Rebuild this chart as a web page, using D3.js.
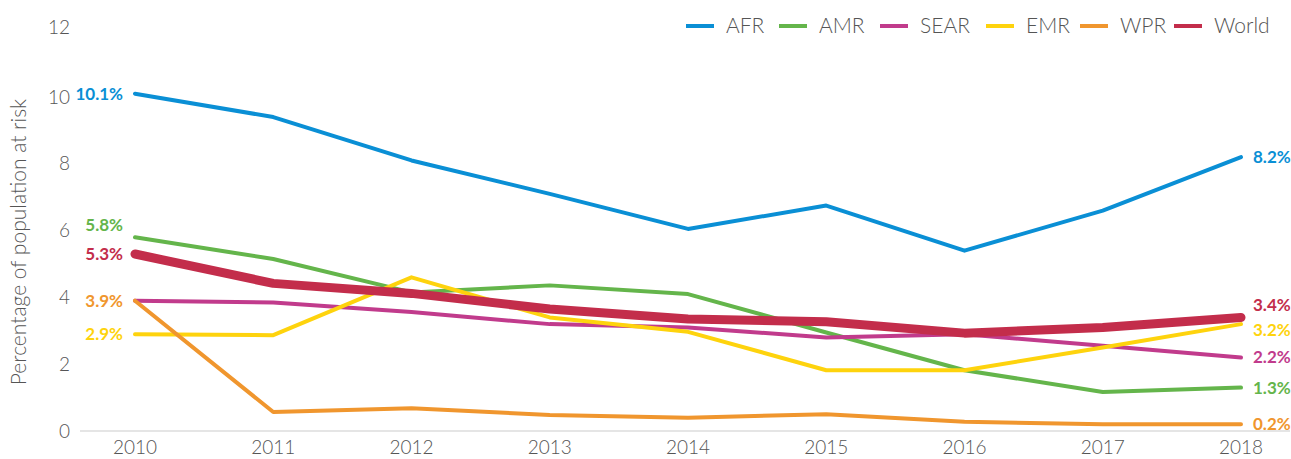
<!DOCTYPE html>
<html>
<head>
<meta charset="utf-8">
<script src="https://cdn.jsdelivr.net/npm/d3@7"></script>
<style>
  html, body { margin: 0; padding: 0; background: #fff; }
  svg { display: block; font-family: Lato, "Open Sans", sans-serif; }
</style>
</head>
<body>
<svg id="chart" width="1291" height="459"></svg>
<script>
// Share of population at risk, by WHO region, 2010–2018
const years = [2010, 2011, 2012, 2013, 2014, 2015, 2016, 2017, 2018];
const afr   = [10.1, 9.4, 8.1, 7.1, 6.05, 6.75, 5.4, 6.6, 8.2];
const amr   = [5.8, 5.15, 4.15, 4.36, 4.1, 2.95, 1.82, 1.17, 1.3];
const sear  = [3.9, 3.85, 3.56, 3.2, 3.1, 2.8, 2.9, 2.55, 2.2];
const emr   = [2.9, 2.87, 4.6, 3.4, 2.97, 1.82, 1.82, 2.5, 3.2];
const wpr   = [3.9, 0.57, 0.68, 0.48, 0.4, 0.5, 0.28, 0.2, 0.2];
const world = [5.3, 4.42, 4.12, 3.65, 3.35, 3.27, 2.93, 3.1, 3.4];
const yTicks = [0, 2, 4, 6, 8, 10, 12];
const seriesNames = ["AFR", "AMR", "SEAR", "EMR", "WPR", "World"];
const seriesValues = [afr, amr, sear, emr, wpr, world];
const colors = ["#0a8fd5", "#64b54b", "#c13b8c", "#fed30d", "#f0962e", "#c32d4b"];
const widths = [4, 4, 4, 4, 4, 9];

const series = seriesNames.map((name, i) => ({
  name, values: seriesValues[i], color: colors[i], width: widths[i]
}));

const svg = d3.select("#chart");
const x = d3.scalePoint().domain(years).range([135, 1241]);
const y = d3.scaleLinear().domain([0, 10]).range([431, 97]);
const textGrey = "#555";

// baseline
svg.append("line")
  .attr("x1", 80).attr("x2", 1290)
  .attr("y1", y(0)).attr("y2", y(0))
  .attr("stroke", "#dcdcdc").attr("stroke-width", 1.5);

// y tick labels
svg.append("g").selectAll("text").data(yTicks).join("text")
  .attr("x", 70).attr("y", d => y(d) - (d === 12 ? 3 : 0))
  .attr("dy", "0.35em")
  .attr("text-anchor", "end")
  .attr("fill", textGrey).attr("font-size", 19).attr("font-weight", 300)
  .text(d => d);

// x tick labels
svg.append("g").selectAll("text").data(years).join("text")
  .attr("x", d => x(d)).attr("y", 454)
  .attr("text-anchor", "middle")
  .attr("fill", textGrey).attr("font-size", 19).attr("font-weight", 300)
  .text(d => d);

// y axis title
svg.append("text")
  .attr("transform", "translate(26,242) rotate(-90)")
  .attr("text-anchor", "middle")
  .attr("fill", textGrey).attr("font-size", 21).attr("font-weight", 300)
  .text("Percentage of population at risk");

// lines
const line = d3.line().x((d, i) => x(years[i])).y(d => y(d));
svg.append("g").selectAll("path").data(series).join("path")
  .attr("d", d => line(d.values))
  .attr("fill", "none")
  .attr("stroke", d => d.color)
  .attr("stroke-width", d => d.width)
  .attr("stroke-linecap", "round")
  .attr("stroke-linejoin", "round");

// value labels at both ends
const fmt = v => v.toFixed(1) + "%";
const startOffsets = { AFR: 0, AMR: -12, SEAR: 0, EMR: 0, WPR: 0, World: 0 };
const endOffsets = { AFR: 0, AMR: 0, SEAR: 0, EMR: 6, WPR: 0, World: -12 };
const startShown = ["AFR", "AMR", "EMR", "WPR", "World"];
series.filter(s => startShown.includes(s.name)).forEach(s => {
  svg.append("text")
    .attr("x", 123).attr("y", y(s.values[0]) + startOffsets[s.name])
    .attr("dy", "0.35em").attr("text-anchor", "end")
    .attr("fill", s.color).attr("font-size", 17).attr("font-weight", 700)
    .text(fmt(s.values[0]));
});
series.forEach(s => {
  const v = s.values[s.values.length - 1];
  svg.append("text")
    .attr("x", 1253).attr("y", y(v) + endOffsets[s.name])
    .attr("dy", "0.35em").attr("text-anchor", "start")
    .attr("fill", s.color).attr("font-size", 17).attr("font-weight", 700)
    .text(fmt(v));
});

// legend
const legendX = [686, 779, 880, 986, 1080, 1174];
const legend = svg.append("g").selectAll("g").data(series).join("g")
  .attr("transform", (d, i) => `translate(${legendX[i]},26)`);
legend.append("line")
  .attr("x1", 0).attr("x2", 28).attr("y1", 0).attr("y2", 0)
  .attr("stroke", d => d.color).attr("stroke-width", 4);
legend.append("text")
  .attr("x", 40).attr("dy", "0.35em")
  .attr("fill", textGrey).attr("font-size", 21).attr("font-weight", 300)
  .text(d => d.name);
</script>
</body>
</html>
